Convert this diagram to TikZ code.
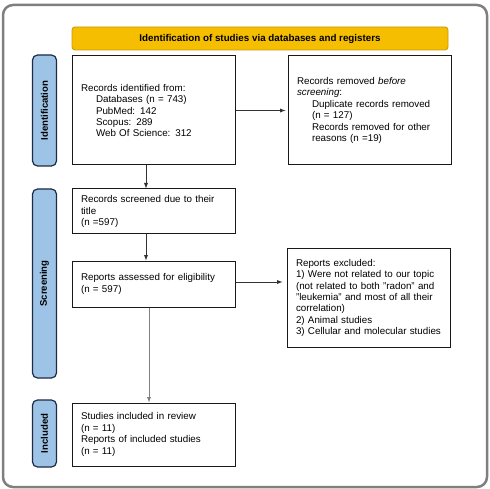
\documentclass[tikz,border=0pt]{standalone}
\usepackage{fontspec}
\setmainfont{Liberation Sans}
\usetikzlibrary{positioning}
\definecolor{bannerfill}{HTML}{F6BE00}
\definecolor{bannerline}{HTML}{C8960A}
\definecolor{phasefill}{HTML}{9DC3E6}
\definecolor{phaseline}{HTML}{1F2A44}
\definecolor{framegray}{HTML}{7F7F7F}
\newcommand{\indnt}{\hspace*{15pt}}
\tikzset{
  box/.style={draw=black!90, line width=1pt, fill=white, text width=145pt,
    inner xsep=9pt, align=left, font=\fontsize{9.8}{11.4}\selectfont},
  phase/.style={draw=phaseline, line width=1.2pt, fill=phasefill,
    rounded corners=5pt, rotate=90, minimum height=24pt,
    font=\bfseries\fontsize{9.6}{11}\selectfont},
  arr/.style={-latex, line width=0.9pt, draw=black!80}
}
\begin{document}
\begin{tikzpicture}[x=1pt, y=-1pt]
    \useasboundingbox (0,0) rectangle (490,489);
    % Frame
    \draw[framegray, line width=2.5pt, rounded corners=10pt] (3,5) rectangle (487,487);

    % Banner
    \node[draw=bannerline, fill=bannerfill, line width=0.8pt, rounded corners=3pt,
      minimum width=376pt, minimum height=23pt,
      font=\bfseries\fontsize{9.8}{11}\selectfont] (banner) at (260,38.5)
      {Identification of studies via databases and registers};

    % Phase labels on the left
    \foreach \N/\Y/\H/\T in {ident/110.5/111/Identification,
        screen/283.5/189/Screening, incl/433.5/67/Included} {
        \node[phase, minimum width=\H pt] (\N) at (44.5,\Y) {\T};
    }

    % Identification
    \node[box, minimum height=109pt] (found) at (153.5,110.5)
      {Records identified from:\\
       \indnt Databases (n = 743)\\
       \indnt PubMed: 142\\
       \indnt Scopus: 289\\
       \indnt Web Of Science: 312};
    \node[box, minimum height=109pt, right=52pt of found] (removed)
      {Records removed \textit{before}\\
       \textit{screening}:\\
       \indnt Duplicate records removed\\
       \indnt (n = 127)\\
       \indnt Records removed for other\\
       \indnt reasons (n =19)};

    % Screening
    \node[box, minimum height=45pt, below=23pt of found] (screened)
      {Records screened due to their\\
       title\\
       (n =597)};
    \node[box, minimum height=46pt, below=26pt of screened] (assessed)
      {Reports assessed for eligibility\\
       (n = 597)};
    \node[box, minimum height=98pt] (excluded) at (368.5,298)
      {Reports excluded:\\
       1) Were not related to our topic\\
       (not related to both "radon" and\\
       "leukemia" and most of all their\\
       correlation)\\
       2) Animal studies\\
       3) Cellular and molecular studies};

    % Included
    \node[box, minimum height=63pt, below=95pt of assessed] (included)
      {Studies included in review\\
       (n = 11)\\
       Reports of included studies\\
       (n = 11)};

    % Arrows
    \draw[arr, shorten >=2pt] (found.east) -- (removed.west);
    \draw[arr] ([xshift=-7.5pt]found.south) -- ([xshift=-7.5pt]screened.north);
    \draw[arr] ([xshift=-7.5pt]screened.south) -- ([xshift=-7.5pt]assessed.north);
    \draw[arr, shorten >=4pt] ([yshift=2pt]assessed.east) -- ([yshift=2pt]assessed.east -| excluded.west);
    \draw[arr, draw=gray] ([xshift=-4.5pt]assessed.south) -- ([xshift=-4.5pt]included.north);
\end{tikzpicture}
\end{document}
